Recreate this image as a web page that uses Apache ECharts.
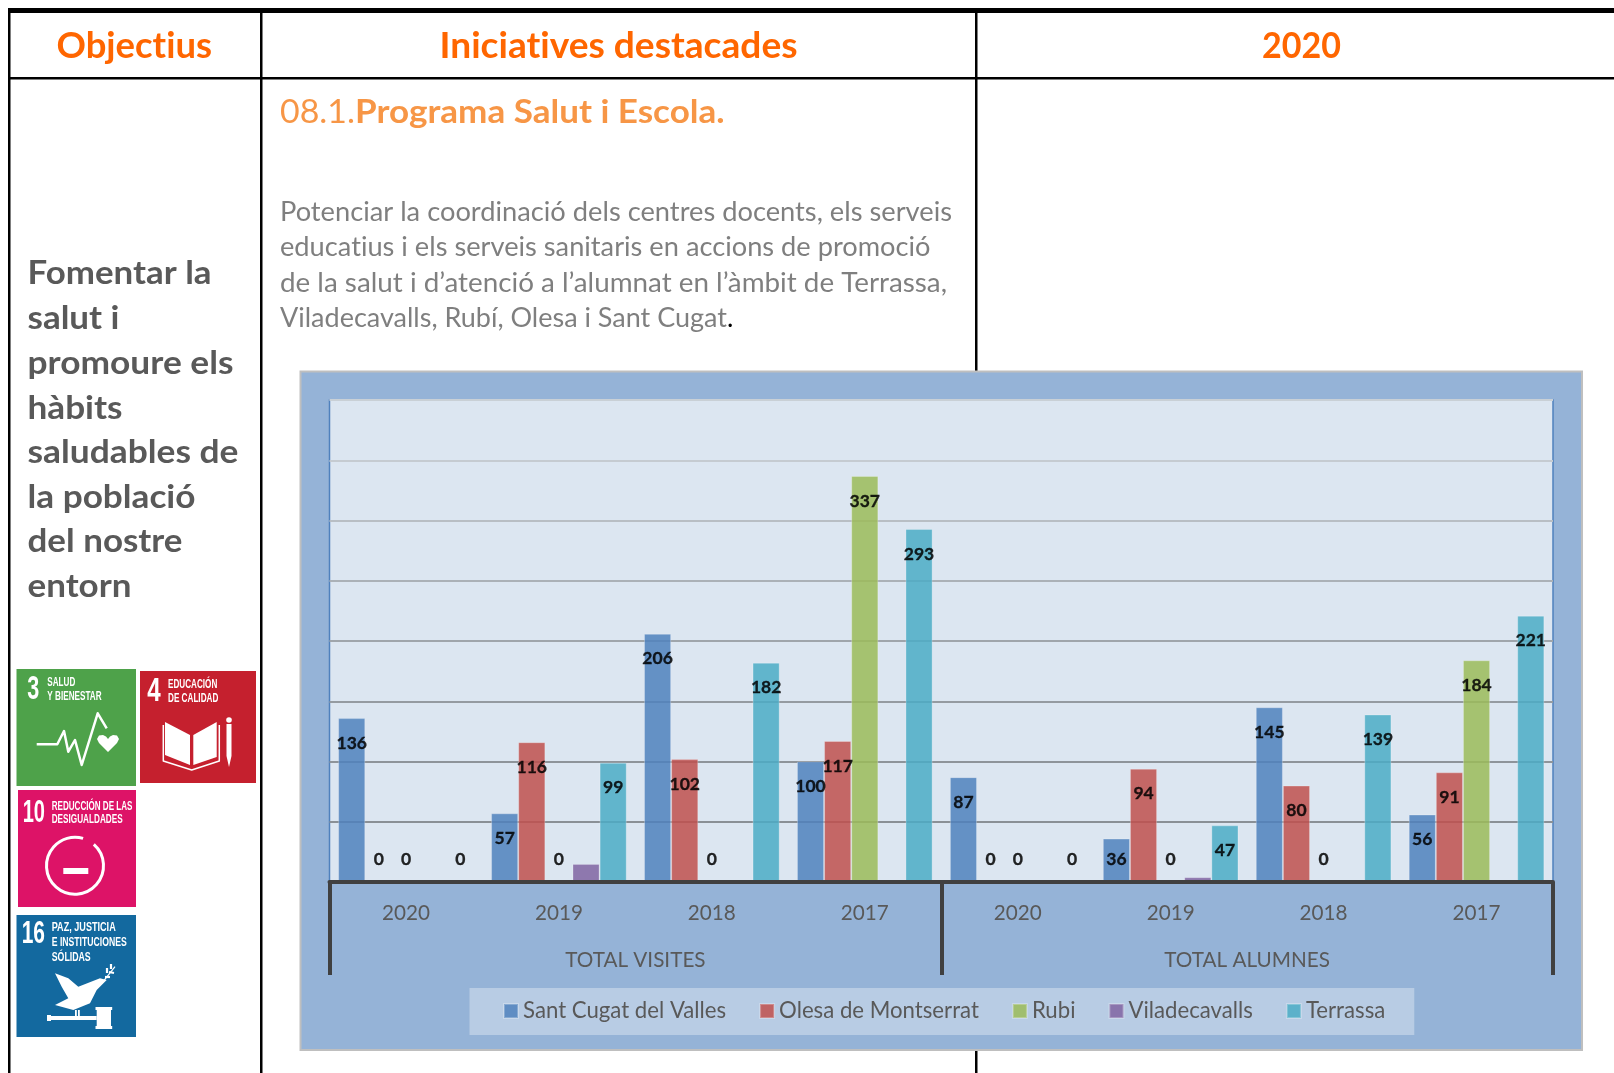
<!DOCTYPE html>
<html>
<head>
<meta charset="utf-8">
<style>html,body{margin:0;padding:0;background:#fff}#c{width:1614px;height:1073px}</style>
<script src="https://cdn.jsdelivr.net/npm/echarts@6/dist/echarts.min.js"></script>
</head>
<body>
<div id="c"></div>
<script>
const yearLabels = ['2020','2019','2018','2017','2020','2019','2018','2017'];
const groupLabels = ['TOTAL VISITES','TOTAL ALUMNES'];
const seriesNames = ['Sant Cugat del Valles','Olesa de Montserrat','Rubi','Viladecavalls','Terrassa'];
const santCugat = [136,57,206,100,87,36,145,56];
const olesa = [0,116,102,117,0,94,80,91];
const rubi = [0,0,0,337,0,0,0,184];
const viladecavalls = [null,15,null,null,null,4,null,null];
const terrassa = [0,99,182,293,0,47,139,221];
const seriesColors = ['#4f81bd','#c0504d','#9bbb59','#8064a2','#4bacc6'];
const gridColors = ['#888e94','#8a9096','#8e949a','#959ba1','#9fa5ab','#abb1b7','#b8bec4','#c5cbd1','#c9d0d6'];
const LATO = 'Lato, Carlito, Calibri, sans-serif';

// draw text without automatic ligatures, like the reference
const nativeFillText = CanvasRenderingContext2D.prototype.fillText;
CanvasRenderingContext2D.prototype.fillText = function () {
  this.textRendering = 'optimizeSpeed';
  return nativeFillText.apply(this, arguments);
};
const measure = document.createElement('canvas').getContext('2d');
measure.textRendering = 'optimizeSpeed';
function txt(s, x, y, size, weight, fill, w, fam) {
  const font = weight + ' ' + size + 'px ' + (fam || LATO);
  measure.font = font;
  const sx = w ? w / measure.measureText(s).width : 1;
  return {type:'text', x, y, scaleX:sx, z:-1, silent:true,
    style:{text:s, font, fill, textAlign:'left', textVerticalAlign:'middle', align:'left', verticalAlign:'middle'}};
}
function rect(x, y, w, h, fill, extra) {
  return Object.assign({type:'rect', z:-1, silent:true, shape:{x,y,width:w,height:h}, style:{fill}}, extra||{});
}
function poly(points, fill) { return {type:'polygon', z:-1, silent:true, shape:{points}, style:{fill}}; }
function line(points, w, stroke) { return {type:'polyline', z:-1, silent:true, shape:{points}, style:{stroke:stroke||'#fff', lineWidth:w, fill:null, lineJoin:'round'}}; }
const NAR = '"Liberation Sans", sans-serif';
const W = '#fff';
const decor = [
  // table
  rect(8,8,1606,5,'#000'), rect(8,77,1606,2.5,'#000'),
  rect(8,8,2.5,1065,'#000'), rect(260,8,2.5,1065,'#000'), rect(975,8,2.5,1065,'#000'),
  // chart panel
  rect(300.5,371.5,1281.5,678.5,'#95b3d7',{style:{fill:'#95b3d7',stroke:'#bfbfbf',lineWidth:2}}),
  // heads
  txt('Objectius',56.5,46,37,'bold','#ff6600',155.5),
  txt('Iniciatives destacades',439.5,46,37,'bold','#ff6600',358),
  txt('2020',1262,46,37,'bold','#ff6600',79),
  txt('08.1.',280,113,32,'normal','#f79646',75),
  txt('Programa Salut i Escola.',355,113,32,'bold','#f79646',369.6),
  // body
  txt('Potenciar la coordinació dels centres docents, els serveis',280,212,27,'normal','#7f7f7f',672),
  txt('educatius i els serveis sanitaris en accions de promoció',280,247,27,'normal','#7f7f7f',650.5),
  txt('de la salut i d’atenció a l’alumnat en l’àmbit de Terrassa,',280,283,27,'normal','#7f7f7f',667),
  txt('Viladecavalls, Rubí, Olesa i Sant Cugat',280,318,27,'normal','#7f7f7f',447),
  txt('.',727,318,27,'normal','#000'),
  // left column
  txt('Fomentar la',27.5,273,33,'bold','#595959',184),
  txt('salut i',27.5,318,33,'bold','#595959',92),
  txt('promoure els',27.5,363,33,'bold','#595959',206),
  txt('hàbits',27.5,408,33,'bold','#595959',95),
  txt('saludables de',27.5,452.5,33,'bold','#595959',211),
  txt('la població',27.5,497,33,'bold','#595959',168),
  txt('del nostre',27.5,541.5,33,'bold','#595959',155),
  txt('entorn',27.5,586.5,33,'bold','#595959',104),
  // SDG 3
  rect(16.5,669,119.5,117,'#4ea24a'),
  txt('3',27.3,690,33,'bold',W,12,NAR),
  txt('SALUD',47.3,682,13,'bold',W,28,NAR),
  txt('Y BIENESTAR',47.3,696,13,'bold',W,54.3,NAR),
  line([[36.7,744.3],[57.3,744.3],[64,731],[68.3,751.7],[75,740],[81.7,765],[97.7,713.3],[106.7,728.3]],2.5),
  poly([[108,752],[99,743],[97,739],[99,735.5],[103,735],[106,736.5],[108,739],[110,736.5],[113,735],[117,735.5],[119,739],[117,743]],W),
  // SDG 4
  rect(140,671,116,112,'#c5202e'),
  txt('4',147.3,692,33,'bold',W,13.4,NAR),
  txt('EDUCACIÓN',168,684,13,'bold',W,49.3,NAR),
  txt('DE CALIDAD',168,698,13,'bold',W,50.3,NAR),
  poly([[165,722],[190,735],[190,765],[165,755]],W),
  poly([[193.3,735],[216.7,722],[216.7,757],[193.3,765]],W),
  line([[163.3,725],[163.3,761],[191.7,770],[219.3,761],[219.3,725]],1.5),
  rect(226.5,724,5,32,W),
  poly([[226.5,756],[231.5,756],[229,767]],W),
  {type:'circle',z:-1,silent:true,shape:{cx:229,cy:720,r:2.8},style:{fill:W}},
  // SDG 10
  rect(18,790,118,117,'#dd1367'),
  txt('10',22.7,813,32,'bold',W,22.3,NAR),
  txt('REDUCCIÓN DE LAS',51.7,806,13,'bold',W,80.7,NAR),
  txt('DESIGUALDADES',51.7,819.5,13,'bold',W,71,NAR),
  {type:'arc',z:-1,silent:true,shape:{cx:75,cy:865.7,r:28.5,startAngle:-0.85,endAngle:5.0,clockwise:true},style:{stroke:W,fill:null,lineWidth:3}},
  rect(63.3,868,25,6,W),
  // SDG 16
  rect(16.5,915,119.5,122,'#13699f'),
  txt('16',21.7,934,32,'bold',W,23.3,NAR),
  txt('PAZ, JUSTICIA',51.7,927,13,'bold',W,64,NAR),
  txt('E INSTITUCIONES',51.7,942,13,'bold',W,75,NAR),
  txt('SÓLIDAS',51.7,957,13,'bold',W,39,NAR),
  poly([[55,973.3],[68.3,978.3],[78.3,986.7],[100,978.3],[106.7,980],[96.7,990],[90,1003.3],[73.3,1010],[55,1005],[68.3,998.3],[61.7,986.7]],W),
  line([[101.7,983.3],[115,966.7]],1.2),
  line([[105,977],[110,977]],2.2), line([[109,972],[114,973]],2.2), line([[107,973],[107,968]],2.2), line([[111,969],[111,964]],2.2),
  rect(75,1010,1.8,8,W), rect(78,1010,1.8,8,W),
  rect(48.3,1016,48.4,4,W),
  rect(47,1015,4,6,W),
  rect(96.7,1010,14.3,16,W),
  rect(95.5,1007,16.7,3,W),
  rect(95.5,1026,16.7,3,W)
];

const chart = echarts.init(document.getElementById('c'), null, {renderer:'canvas'});
function makeData(arr) {
  return arr.map(v => v === 0 ? {value:0, label:{position:'top', distance:13}}
    : (v != null && v < 40 ? {value:v, label:{distance:12}} : v));
}
const seriesValues = [santCugat, olesa, rubi, viladecavalls, terrassa];
chart.setOption({
  animation:false,
  backgroundColor:'#fff',
  graphic:{elements:decor},
  grid:{left:329.5, top:400, width:1223.5, height:482, show:true,
    backgroundColor:'#dce6f1', borderColor:'#4f81bd', borderWidth:1.5, containLabel:false},
  legend:{
    left:469.5, top:988, padding:[12,29,13,33.5],
    backgroundColor:'#b8cce4', itemWidth:14, itemHeight:14, itemGap:33,
    icon:'rect', selectedMode:false,
    data:seriesNames,
    textStyle:{fontFamily:LATO, fontSize:22.2, color:'#595959', padding:[0,0,0,0]}
  },
  xAxis:[
    {type:'category', data:yearLabels, position:'bottom', gridIndex:0, z:5,
      axisLine:{show:true, onZero:false, lineStyle:{color:'#404040', width:4}},
      axisTick:{show:false},
      axisLabel:{interval:0, margin:21, fontFamily:LATO, fontSize:20.7, color:'#595959'}},
    {type:'category', data:groupLabels, position:'bottom', gridIndex:0, offset:0, z:5,
      axisLine:{show:false, onZero:false},
      axisTick:{show:true, length:93, alignWithLabel:false, lineStyle:{color:'#404040', width:4}},
      axisLabel:{interval:0, margin:68, fontFamily:LATO, fontSize:20.7, color:'#595959'}}
  ],
  yAxis:{type:'value', min:0, max:400, interval:50,
    axisLine:{show:false}, axisTick:{show:false}, axisLabel:{show:false},
    splitLine:{show:true, lineStyle:{color:gridColors, width:2}}},
  series:seriesNames.map((name,i)=>({
    name, type:'bar', xAxisIndex:0, barGap:0, barCategoryGap:'11.3%',
    data:makeData(seriesValues[i]),
    itemStyle:{color:seriesColors[i], opacity:0.85, borderColor:'rgba(255,255,255,0.3)', borderWidth:1},
    label:{show:i!==3, position:'insideTop', distance:16, color:'#000', fontFamily:LATO, fontWeight:'bold', fontSize:17.5, textBorderColor:'#000', textBorderWidth:0.3},
    emphasis:{disabled:true}
  }))
});
</script>
</body>
</html>
